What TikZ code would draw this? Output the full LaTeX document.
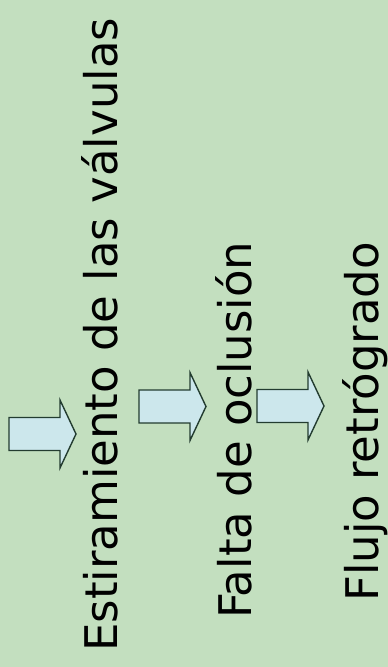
\documentclass[tikz,border=0pt]{standalone}
\usepackage{fontspec}
\setmainfont{DejaVu Sans}

\definecolor{bggreen}{RGB}{195,223,191}
\definecolor{arrowblue}{RGB}{204,231,236}
\definecolor{arrowline}{RGB}{35,60,48}

\tikzset{
  vtext/.style={rotate=90, anchor=base west, inner sep=0pt, text=black,
    font=\fontsize{45}{54}\selectfont},
  blockarrow/.style={draw=arrowline, fill=arrowblue, line width=1.4pt, line join=miter}
}

\begin{document}
\begin{tikzpicture}[x=1pt,y=1pt]
    \fill[bggreen] (0,0) rectangle (388,667);
    \useasboundingbox (0,0) rectangle (388,667);
    % block arrows: tail x / centre y
    \foreach \tx/\cy in {9/233, 139/260.5, 257/261}
        \draw[blockarrow] (\tx,\cy-16.5) -- ++(51,0) -- ++(0,-17.5)
            -- (\tx+67,\cy) -- (\tx+51,\cy+34) -- ++(0,-17.5) -- (\tx,\cy+16.5) -- cycle;
    \node[vtext] (stretch) at (117,15) {Estiramiento de las válvulas};
    \node[vtext] (occlusion) at (251,48) {Falta de oclusión};
    \node[vtext] (backflow) at (378,65) {Flujo retrógrado};
\end{tikzpicture}
\end{document}
